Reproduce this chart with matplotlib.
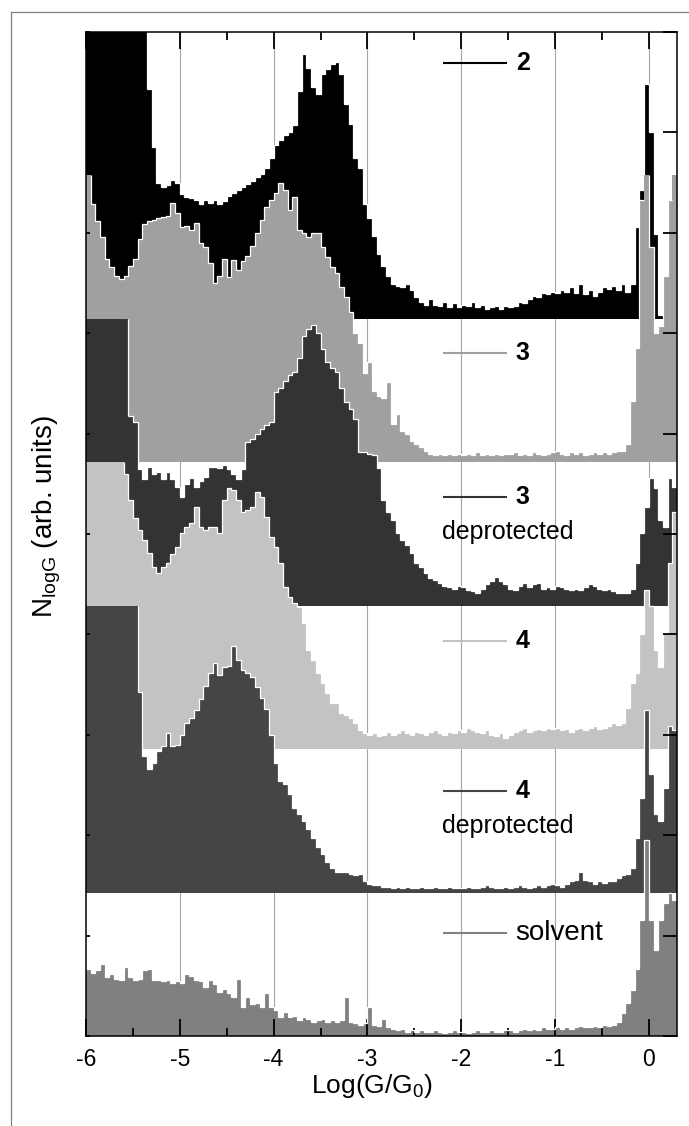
import numpy as np
import matplotlib
matplotlib.use("Agg")
import matplotlib.pyplot as plt
from matplotlib.lines import Line2D

plt.rcParams['font.family'] = ['Liberation Sans', 'DejaVu Sans']
plt.rcParams['mathtext.fontset'] = 'custom'
plt.rcParams['mathtext.rm'] = 'Liberation Sans'
plt.rcParams['mathtext.it'] = 'Liberation Sans:italic'
plt.rcParams['mathtext.bf'] = 'Liberation Sans:bold'

# ---------------- data (histogram heights, in units of one panel offset) -------------
bin_start = -6.0
bin_width = 0.05
clip_level = 2.0

# compound 2
h_2 = [
    2.00, 2.00, 2.00, 2.00, 2.00, 2.00, 2.00, 2.00, 2.00, 2.00,
    2.00, 2.00, 2.00, 1.60, 1.20, 0.95, 0.92, 0.93, 0.97, 0.95,
    0.87, 0.85, 0.84, 0.83, 0.80, 0.83, 0.81, 0.83, 0.80, 0.82,
    0.86, 0.88, 0.90, 0.92, 0.94, 0.96, 0.99, 1.01, 1.05, 1.12,
    1.21, 1.25, 1.28, 1.30, 1.35, 1.59, 1.85, 1.75, 1.62, 1.57,
    1.71, 1.74, 1.78, 1.79, 1.71, 1.50, 1.36, 1.12, 1.05, 0.80,
    0.70, 0.58, 0.45, 0.37, 0.30, 0.24, 0.23, 0.22, 0.24, 0.20,
    0.15, 0.12, 0.10, 0.14, 0.10, 0.09, 0.12, 0.08, 0.11, 0.08,
    0.10, 0.09, 0.12, 0.08, 0.10, 0.07, 0.08, 0.09, 0.07, 0.09,
    0.08, 0.09, 0.12, 0.11, 0.14, 0.16, 0.15, 0.18, 0.17, 0.19,
    0.18, 0.20, 0.19, 0.22, 0.18, 0.24, 0.17, 0.20, 0.16, 0.19,
    0.22, 0.21, 0.23, 0.20, 0.24, 0.19, 0.24, 0.64, 0.90, 1.64,
    1.30, 0.59, 0.03, 0.02, 0.02, 0.02,
]

# compound 3
h_3 = [
    2.00, 1.80, 1.68, 1.57, 1.42, 1.36, 1.30, 1.28, 1.30, 1.37,
    1.42, 1.56, 1.66, 1.68, 1.69, 1.70, 1.71, 1.72, 1.81, 1.74,
    1.64, 1.65, 1.62, 1.67, 1.53, 1.50, 1.39, 1.25, 1.30, 1.42,
    1.29, 1.41, 1.34, 1.40, 1.44, 1.51, 1.60, 1.69, 1.78, 1.83,
    1.88, 1.95, 1.90, 1.76, 1.85, 1.62, 1.60, 1.57, 1.60, 1.60,
    1.50, 1.43, 1.36, 1.32, 1.22, 1.15, 1.05, 0.90, 0.83, 0.62,
    0.70, 0.50, 0.46, 0.45, 0.56, 0.27, 0.34, 0.22, 0.20, 0.15,
    0.13, 0.11, 0.08, 0.06, 0.05, 0.06, 0.05, 0.06, 0.05, 0.06,
    0.05, 0.06, 0.05, 0.07, 0.05, 0.06, 0.05, 0.06, 0.05, 0.06,
    0.06, 0.07, 0.05, 0.06, 0.05, 0.07, 0.06, 0.05, 0.06, 0.07,
    0.08, 0.06, 0.05, 0.07, 0.06, 0.07, 0.05, 0.06, 0.07, 0.06,
    0.07, 0.06, 0.07, 0.08, 0.08, 0.13, 0.43, 0.80, 1.83, 2.00,
    1.50, 0.90, 0.95, 1.30, 1.83, 2.00,
]

# compound 3, deprotected
h_3d = [
    2.00, 2.00, 2.00, 2.00, 2.00, 2.00, 2.00, 2.00, 2.00, 1.32,
    1.28, 0.95, 0.88, 0.97, 0.92, 0.93, 0.88, 0.93, 0.88, 0.83,
    0.76, 0.85, 0.89, 0.83, 0.87, 0.90, 0.97, 0.97, 0.96, 0.98,
    0.95, 0.92, 0.88, 0.95, 1.14, 1.16, 1.20, 1.23, 1.26, 1.28,
    1.49, 1.52, 1.57, 1.61, 1.63, 1.73, 1.88, 1.93, 1.96, 1.90,
    1.79, 1.70, 1.66, 1.63, 1.52, 1.42, 1.37, 1.30, 1.07, 1.07,
    1.06, 1.05, 0.96, 0.74, 0.65, 0.60, 0.51, 0.46, 0.42, 0.37,
    0.30, 0.27, 0.23, 0.19, 0.18, 0.16, 0.14, 0.13, 0.12, 0.14,
    0.13, 0.11, 0.10, 0.09, 0.12, 0.15, 0.17, 0.20, 0.17, 0.15,
    0.12, 0.11, 0.14, 0.16, 0.13, 0.15, 0.16, 0.12, 0.13, 0.12,
    0.14, 0.13, 0.12, 0.11, 0.12, 0.11, 0.13, 0.15, 0.14, 0.12,
    0.11, 0.12, 0.10, 0.09, 0.09, 0.09, 0.12, 0.30, 0.51, 0.69,
    0.89, 0.82, 0.60, 0.55, 0.89, 0.83,
]

# compound 4
h_4 = [
    2.00, 2.00, 2.00, 2.00, 2.00, 2.00, 2.00, 2.00, 1.92, 1.74,
    1.61, 1.53, 1.46, 1.37, 1.27, 1.23, 1.27, 1.30, 1.36, 1.41,
    1.51, 1.55, 1.58, 1.69, 1.55, 1.53, 1.55, 1.55, 1.51, 1.74,
    1.82, 1.81, 1.74, 1.65, 1.67, 1.69, 1.79, 1.76, 1.62, 1.48,
    1.41, 1.30, 1.13, 1.06, 1.02, 0.99, 0.88, 0.69, 0.62, 0.53,
    0.46, 0.39, 0.32, 0.32, 0.25, 0.24, 0.22, 0.18, 0.13, 0.11,
    0.10, 0.11, 0.09, 0.10, 0.12, 0.10, 0.11, 0.13, 0.11, 0.10,
    0.12, 0.11, 0.10, 0.12, 0.13, 0.11, 0.10, 0.12, 0.11, 0.13,
    0.12, 0.15, 0.13, 0.12, 0.11, 0.13, 0.10, 0.09, 0.11, 0.08,
    0.10, 0.12, 0.13, 0.15, 0.12, 0.13, 0.14, 0.13, 0.15, 0.14,
    0.15, 0.13, 0.14, 0.12, 0.14, 0.15, 0.13, 0.15, 0.16, 0.14,
    0.15, 0.16, 0.18, 0.17, 0.18, 0.29, 0.46, 0.53, 0.80, 1.11,
    1.00, 0.69, 0.57, 0.81, 1.30, 1.65,
]

# compound 4, deprotected
h_4d = [
    2.00, 2.00, 2.00, 2.00, 2.00, 2.00, 2.00, 2.00, 2.00, 2.00,
    2.00, 1.40, 0.95, 0.86, 0.90, 0.99, 1.02, 1.11, 1.02, 1.03,
    1.10, 1.18, 1.22, 1.27, 1.35, 1.44, 1.53, 1.60, 1.52, 1.57,
    1.58, 1.72, 1.62, 1.55, 1.53, 1.50, 1.43, 1.36, 1.28, 1.10,
    0.90, 0.78, 0.76, 0.69, 0.59, 0.55, 0.50, 0.44, 0.38, 0.32,
    0.27, 0.21, 0.17, 0.14, 0.14, 0.14, 0.13, 0.12, 0.13, 0.08,
    0.06, 0.05, 0.05, 0.04, 0.04, 0.03, 0.04, 0.03, 0.04, 0.03,
    0.03, 0.04, 0.03, 0.03, 0.04, 0.03, 0.03, 0.04, 0.03, 0.03,
    0.03, 0.04, 0.03, 0.03, 0.04, 0.05, 0.04, 0.03, 0.03, 0.04,
    0.03, 0.04, 0.05, 0.04, 0.03, 0.04, 0.05, 0.04, 0.05, 0.06,
    0.05, 0.04, 0.06, 0.08, 0.09, 0.14, 0.09, 0.08, 0.06, 0.08,
    0.07, 0.08, 0.08, 0.10, 0.12, 0.13, 0.17, 0.38, 0.66, 1.27,
    0.83, 0.55, 0.50, 0.73, 1.16, 1.13,
]

# solvent
h_solv = [
    0.47, 0.44, 0.46, 0.50, 0.41, 0.43, 0.40, 0.39, 0.48, 0.41,
    0.39, 0.40, 0.46, 0.47, 0.39, 0.39, 0.38, 0.39, 0.37, 0.38,
    0.37, 0.43, 0.42, 0.39, 0.38, 0.34, 0.39, 0.36, 0.31, 0.33,
    0.30, 0.27, 0.40, 0.20, 0.27, 0.22, 0.23, 0.20, 0.30, 0.20,
    0.18, 0.13, 0.17, 0.13, 0.14, 0.11, 0.13, 0.12, 0.10, 0.11,
    0.12, 0.10, 0.11, 0.10, 0.11, 0.27, 0.10, 0.09, 0.08, 0.09,
    0.20, 0.08, 0.07, 0.12, 0.06, 0.05, 0.04, 0.05, 0.03, 0.04,
    0.03, 0.04, 0.03, 0.03, 0.04, 0.03, 0.02, 0.03, 0.04, 0.03,
    0.03, 0.02, 0.03, 0.04, 0.03, 0.03, 0.04, 0.03, 0.03, 0.04,
    0.04, 0.03, 0.04, 0.05, 0.04, 0.05, 0.04, 0.06, 0.05, 0.05,
    0.06, 0.05, 0.06, 0.05, 0.06, 0.07, 0.06, 0.06, 0.07, 0.06,
    0.08, 0.07, 0.08, 0.10, 0.16, 0.23, 0.32, 0.47, 0.81, 1.37,
    0.81, 0.60, 0.81, 0.93, 1.00, 0.95,
]

labels = ["2", "3", "3", "4", "4", "solvent"]
sublabels = ["", "", "deprotected", "", "deprotected", ""]
x_ticks = [-6, -5, -4, -3, -2, -1, 0]
x_tick_labels = ["-6", "-5", "-4", "-3", "-2", "-1", "0"]

# ---------------- styling / layout ----------------
series = [h_2, h_3, h_3d, h_4, h_4d, h_solv]
colors = ["#000000", "#a0a0a0", "#333333", "#c3c3c3", "#454545", "#808080"]
offsets = [5, 4, 3, 2, 1, 0]
label_dy = [1.785, 0.763, 0.759, 0.755, 0.711, 0.718]

W, H = 689, 1126
fig = plt.figure(figsize=(W / 100, H / 100), dpi=100)
ax = fig.add_axes([86 / W, 1 - 1036 / H, 591 / W, 1004 / H])

n = len(h_2)
edges = bin_start + bin_width * np.arange(n + 1)

# vertical grid lines (behind data)
for xv in x_ticks[1:]:
    ax.axvline(xv, color="#a6a6a6", lw=0.8, zorder=0.5)

for k, (vals, col, base) in enumerate(zip(series, colors, offsets)):
    vals = np.asarray(vals, dtype=float)
    v = vals + base
    z = 1.0 + 0.1 * k
    ax.stairs(v, edges, baseline=base, fill=True, facecolor=col,
              edgecolor="none", lw=0, zorder=z)
    # white outline on the top of the steps, except on clipped bins
    clipped = vals >= clip_level
    v_line = np.where(clipped, np.nan, v)
    ax.stairs(v_line, edges, baseline=None, fill=False, color="white",
              lw=0.9, zorder=z + 0.05)
    # drop from clipped plateau to the first unclipped bin
    idx = np.where(clipped[:-1] & ~clipped[1:])[0]
    for i in idx:
        ax.vlines(edges[i + 1], v[i + 1], base + clip_level, color="white",
                  lw=0.9, zorder=z + 0.05)

# in-plot legend
for lab, sub, col, base, dy in zip(labels, sublabels, colors, offsets, label_dy):
    yl = base + dy
    ax.plot([-2.19, -1.51], [yl, yl], color=col, lw=1.5, zorder=3,
            solid_capstyle="butt")
    is_solvent = (lab == "solvent")
    ax.text(-1.42, yl, lab, fontsize=20 if is_solvent else 18,
            fontweight="normal" if is_solvent else "bold",
            ha="left", va="center", zorder=3)
    if sub:
        ax.text(-2.20, yl - 0.245, sub, fontsize=18, ha="left", va="center",
                zorder=3)

ax.set_xlim(-6, 0.3)
ax.set_ylim(0, 7)
ax.set_xticks(x_ticks)
ax.set_xticklabels(x_tick_labels, fontsize=16.5)
ax.set_xticks(np.arange(-5.5, 0.01, 1.0), minor=True)
ax.tick_params(axis="x", which="major", direction="in", length=12, width=1.3,
               top=True, bottom=True, pad=9)
ax.tick_params(axis="x", which="minor", direction="in", length=6, width=1.3,
               top=True, bottom=True)
ax.set_yticks(np.linspace(0, 7, 11))
ax.tick_params(axis="y", which="major", direction="in", length=3, width=1.3,
               left=True, right=False, labelleft=False)
for sp in ax.spines.values():
    sp.set_linewidth(1.1)

ax2 = ax.twinx()
ax2.set_ylim(0, 7)
ax2.set_yticks(np.linspace(0, 7, 11))
ax2.tick_params(axis="y", direction="in", length=10, width=1.3,
                right=True, labelright=False)
for sp in ax2.spines.values():
    sp.set_visible(False)

ax.set_xlabel(r"Log(G/G$_0$)", fontsize=19)
ax.xaxis.set_label_coords(0.483, -0.036)

fig.text(47 / W, 1 - 517 / H, r"N$_{\mathrm{logG}}$ (arb. units)", rotation=90,
         ha="center", va="center", fontsize=20)

# outer frame
fig.add_artist(Line2D([11 / W, 11 / W], [0, 1 - 12 / H], transform=fig.transFigure,
                      color="#808080", lw=0.9))
fig.add_artist(Line2D([11 / W, 1], [1 - 12 / H, 1 - 12 / H], transform=fig.transFigure,
                      color="#808080", lw=0.9))

fig.savefig("out.png", dpi=100)
